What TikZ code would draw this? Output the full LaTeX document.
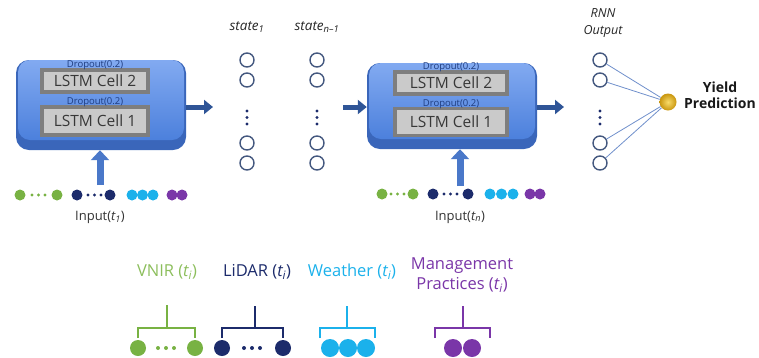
\documentclass[tikz,border=0pt]{standalone}
\usepackage{fontspec}
\setmainfont{Open Sans}
\usetikzlibrary{arrows.meta}
\definecolor{vgreen}{HTML}{78B243}
\definecolor{vgreentxt}{HTML}{8CBE5C}
\definecolor{lnavy}{HTML}{1C2B6B}
\definecolor{wcyan}{HTML}{1BB1EB}
\definecolor{mpurple}{HTML}{7A36A8}
\definecolor{boxtopc}{HTML}{82AAF1}
\definecolor{boxbotc}{HTML}{4C80DC}
\definecolor{boxbasec}{HTML}{3A66BA}
\definecolor{arrowc}{HTML}{2F5597}
\definecolor{inarrow}{HTML}{4A78C9}
\definecolor{circc}{HTML}{44587F}
\definecolor{dropc}{HTML}{1F3D80}
\definecolor{cellfill}{HTML}{CACACA}
\definecolor{cellframe}{HTML}{7E7E7E}
\definecolor{linec}{HTML}{6F8FCB}
\definecolor{goldin}{HTML}{F9DC6A}
\definecolor{goldout}{HTML}{C9960F}
\begin{document}
\begin{tikzpicture}[x=1pt,y=-1pt,
  boxbase/.style={rectangle, rounded corners=13pt, fill=boxbasec, minimum width=170pt, inner sep=0pt},
  boxface/.style={rectangle, rounded corners=12pt, top color=boxtopc, bottom color=boxbotc, minimum width=166pt, inner sep=0pt},
  cellbox/.style={rectangle, fill=cellfill, draw=cellframe, line width=3.5pt, inner sep=0pt, text=black!78, font=\fontsize{15.5}{15.5}\selectfont},
  droplbl/.style={text=dropc, font=\fontsize{9.5}{9.5}\selectfont, inner sep=0pt},
  bigarrow/.style={draw=arrowc, line width=5pt, -{Triangle[length=9pt,width=14pt]}},
  uparrow/.style={draw=inarrow, line width=7pt, -{Triangle[length=10pt,width=18pt]}},
  stcirc/.style={circle, draw=circc, line width=1.4pt, fill=white, minimum size=14pt, inner sep=0pt},
  vdot/.style={circle, fill=lnavy, minimum size=3.2pt, inner sep=0pt},
  indot/.style={circle, fill=#1, minimum size=11pt, inner sep=0pt},
  smdot/.style={circle, fill=#1, minimum size=3.4pt, inner sep=0pt},
  btdot/.style={circle, fill=#1, minimum size=16pt, inner sep=0pt},
  bracket/.style={draw=#1, line width=2.6pt},
  inlbl/.style={text=black!80, font=\fontsize{13}{13}\selectfont},
  grplbl/.style={font=\fontsize{16.5}{20}\selectfont, align=center}
]
\useasboundingbox (0,0) rectangle (759,357);

% ---------- left LSTM block ----------
\node[boxbase, minimum height=90pt] (b1s) at (101,105) {};
\node[boxface, minimum height=80pt] (b1) at (101,100) {};
\node[cellbox, minimum width=106pt, minimum height=22pt] (c12) at (95,81) {LSTM Cell 2};
\node[cellbox, minimum width=106pt, minimum height=28pt] (c11) at (95,121) {LSTM Cell 1};
\node[droplbl] (d12) at (95,65) {Dropout(0.2)};
\node[droplbl] (d11) at (95,102) {Dropout(0.2)};

% ---------- right LSTM block ----------
\node[boxbase, minimum height=86pt] (b2s) at (452,106) {};
\node[boxface, minimum height=76pt] (b2) at (452,101) {};
\node[cellbox, minimum width=112pt, minimum height=22pt] (c22) at (451,83) {LSTM Cell 2};
\node[cellbox, minimum width=112pt, minimum height=27pt] (c21) at (451,122) {LSTM Cell 1};
\node[droplbl] (d22) at (451,67) {Dropout(0.2)};
\node[droplbl] (d21) at (451,104) {Dropout(0.2)};

% ---------- horizontal arrows ----------
\coordinate (a1e) at (213,107);
\coordinate (a2s) at (343,107);
\coordinate (a3e) at (564,107);
\draw[bigarrow] (b1s.east |- a1e) -- (a1e);
\draw[bigarrow] (a2s) -- (a2s -| b2s.west);
\draw[bigarrow] (b2s.east |- a3e) -- (a3e);

% ---------- input arrows ----------
\coordinate (in1) at (100,185);
\coordinate (in2) at (460,186);
\draw[uparrow] (in1) -- (in1 |- b1s.south);
\draw[uparrow] (in2) -- (in2 |- b2s.south);

% ---------- input dot rows ----------
\foreach \x/\n in {20/1,57/2} \node[indot=vgreen] (lg\n) at (\x,195) {};
\foreach \x/\n in {32/1,38.5/2,45/3} \node[smdot=vgreen] (lgs\n) at (\x,195) {};
\foreach \x/\n in {77/1,110/2} \node[indot=lnavy] (ln\n) at (\x,195) {};
\foreach \x/\n in {88/1,94.5/2,101/3} \node[smdot=lnavy] (lns\n) at (\x,195) {};
\foreach \x/\n in {132/1,142.5/2,153/3} \node[indot=wcyan] (lc\n) at (\x,195) {};
\foreach \x/\n in {172/1,182/2} \node[indot=mpurple] (lp\n) at (\x,195) {};
\node[inlbl] (inp1) at (100,217) {Input(\textit{t\textsubscript{1}})};

\foreach \x/\n in {382/1,413/2} \node[indot=vgreen] (rg\n) at (\x,194) {};
\foreach \x/\n in {391/1,397.5/2,404/3} \node[smdot=vgreen] (rgs\n) at (\x,194) {};
\foreach \x/\n in {433/1,468/2} \node[indot=lnavy] (rn\n) at (\x,194) {};
\foreach \x/\n in {444/1,450.5/2,457/3} \node[smdot=lnavy] (rns\n) at (\x,194) {};
\foreach \x/\n in {490/1,501.5/2,513/3} \node[indot=wcyan] (rc\n) at (\x,194) {};
\foreach \x/\n in {530/1,540/2} \node[indot=mpurple] (rp\n) at (\x,194) {};
\node[inlbl] (inp2) at (460,217) {Input(\textit{t\textsubscript{n}})};

% ---------- state columns ----------
\node[font=\itshape\fontsize{13.5}{13.5}\selectfont, text=black!85] (s1l) at (247,27) {state\textsubscript{1}};
\node[font=\itshape\fontsize{13.5}{13.5}\selectfont, text=black!85] (s2l) at (317,27) {state\textsubscript{n\textendash1}};
\foreach \c/\x in {s/247,t/317,o/600}{
  \node[stcirc] (\c1) at (\x,60) {};
  \node[stcirc] (\c2) at (\x,80) {};
  \node[stcirc] (\c3) at (\x,143) {};
  \node[stcirc] (\c4) at (\x,163) {};
  \node[vdot] (\c d1) at (\x,111) {};
  \node[vdot] (\c d2) at (\x,117.5) {};
  \node[vdot] (\c d3) at (\x,124) {};
}
\node[font=\itshape\fontsize{12.5}{17}\selectfont, align=center, text=black!85] (rnnl) at (603,23) {RNN\\Output};

% ---------- yield prediction ----------
\node[circle, minimum size=17pt, inner sep=0pt, inner color=goldin, outer color=goldout] (yp) at (668,102) {};
\foreach \i in {1,...,4} \draw[linec, line width=0.8pt] (o\i) -- (yp);
\node[font=\bfseries\fontsize{14}{16}\selectfont, align=center, text=black!90] (ylbl) at (720,95) {Yield\\Prediction};

% ---------- legend groups ----------
\node[grplbl, text=vgreentxt] (vnir) at (167,272) {VNIR (\textit{t\textsubscript{i}})};
\node[grplbl, text=lnavy] (lidar) at (257,272) {LiDAR (\textit{t\textsubscript{i}})};
\node[grplbl, text=wcyan] (wthr) at (352,272) {Weather (\textit{t\textsubscript{i}})};
\node[grplbl, text=mpurple] (mgmt) at (462,275) {Management\\Practices (\textit{t\textsubscript{i}})};

\draw[bracket=vgreen] (167,305) -- (167,328) (138,338) -- (138,328) -- (195,328) -- (195,338);
\draw[bracket=lnavy] (255,306) -- (255,328) (222,338) -- (222,328) -- (283,328) -- (283,338);
\draw[bracket=wcyan] (347,306) -- (347,328) (320,338) -- (320,328) -- (375,328) -- (375,338);
\draw[bracket=mpurple] (463,306) -- (463,328) (435,338) -- (435,328) -- (490,328) -- (490,338);

\node[btdot=vgreen] (bg1) at (138,348) {};
\node[btdot=vgreen] (bg2) at (195,348) {};
\foreach \x/\n in {158/1,166/2,174/3} \node[smdot=vgreen, minimum size=4pt] (bgs\n) at (\x,348) {};
\node[btdot=lnavy] (bn1) at (222,348) {};
\node[btdot=lnavy] (bn2) at (283,348) {};
\foreach \x/\n in {244/1,252/2,260/3} \node[smdot=lnavy, minimum size=4pt] (bns\n) at (\x,348) {};
\foreach \x/\n in {330/1,348/2,366/3} \node[btdot=wcyan, minimum size=18pt] (bc\n) at (\x,348) {};
\foreach \x/\n in {453/1,472/2} \node[btdot=mpurple, minimum size=18pt] (bp\n) at (\x,348) {};
\end{tikzpicture}
\end{document}
